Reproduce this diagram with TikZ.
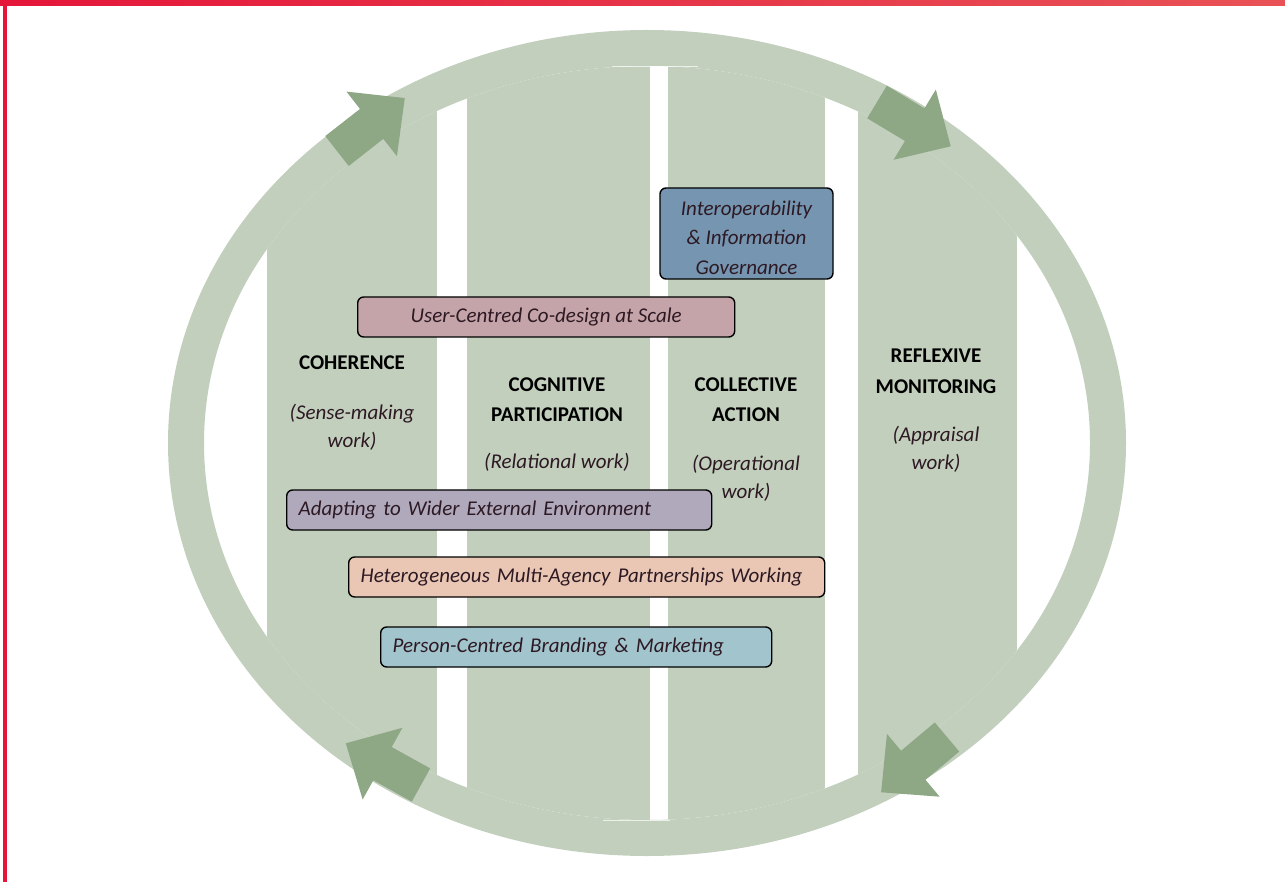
\documentclass[tikz,border=0pt]{standalone}
\usepackage{fontspec}
\setmainfont{Carlito}
\definecolor{ringgreen}{RGB}{194,207,189}
\definecolor{arrowgreen}{RGB}{142,168,134}
\definecolor{textdark}{RGB}{45,25,35}
\definecolor{mauve}{RGB}{196,164,168}
\definecolor{lavender}{RGB}{176,169,188}
\definecolor{peach}{RGB}{233,199,180}
\definecolor{paleblue}{RGB}{161,196,205}
\definecolor{steelblue}{RGB}{117,149,177}
\definecolor{redleft}{RGB}{228,22,58}
\definecolor{redright}{RGB}{232,82,86}
\begin{document}
\begin{tikzpicture}[x=1pt,y=-1pt,
    phase/.style={font=\fontsize{21}{30}\selectfont\bfseries, align=center, inner sep=0pt},
    work/.style={font=\fontsize{21}{28}\selectfont\itshape, text=textdark, align=center, inner sep=0pt},
    tagtext/.style={font=\fontsize{21}{29.5}\selectfont\itshape, text=textdark},
    tag/.style={draw=black, line width=1.4pt, rounded corners=6pt, minimum height=40pt,
      tagtext, inner xsep=12pt}]
    \useasboundingbox (0,0) rectangle (1285,882);
    \shade[left color=redleft, right color=redright] (0,0) rectangle (1285,6);
    \fill[redleft] (3,0) rectangle (7,882);

    \fill[ringgreen, even odd rule] (647,443) ellipse [x radius=479, y radius=413]
      (647,443) ellipse [x radius=443, y radius=377];
    \begin{scope}
      \clip (647,443) ellipse [x radius=443, y radius=377];
      \foreach \l/\r in {267/437, 467/650, 668/825, 858/1017}
        \fill[ringgreen] (\l,0) rectangle (\r,882);
    \end{scope}
    \draw[white, opacity=.7, line width=1] (612,67) -- (698,67);
    \draw[white, opacity=.7, line width=1] (603,820) -- (670,820);

    \foreach \x/\y/\a in {337/151/38, 877/102/-31, 947/737/220, 421/785/151}
      \fill[arrowgreen, shift={(\x,\y)}, rotate=\a]
        (0,-19) -- (44,-19) -- (44,-41) -- (86,0) -- (44,41) -- (44,19) -- (0,19) -- cycle;

    \node[phase, anchor=base] (coh) at (352,370) {COHERENCE};
    \node[work, anchor=base] (cohw) at (352,447) {(Sense-making\\work)};
    \node[phase, anchor=base] (cog) at (557,421) {COGNITIVE\\PARTICIPATION};
    \node[work, anchor=base] (cogw) at (557,468) {(Relational work)};
    \node[phase, anchor=base] (col) at (746,421) {COLLECTIVE\\ACTION};
    \node[work, anchor=base] (colw) at (746,498) {(Operational\\work)};
    \node[phase, anchor=base] (ref) at (936,393) {REFLEXIVE\\MONITORING};
    \node[work, anchor=base] (refw) at (936,469) {(Appraisal\\work)};

    \node[tag, fill=steelblue, minimum width=173pt, minimum height=91pt] (interop) at (746.5,233.5) {};
    \node[tagtext, align=center, inner sep=0pt] (interoptext) at ([yshift=-4pt]interop.center)
      {Interoperability\\\& Information\\Governance};
    \node[tag, fill=mauve, minimum width=377pt, anchor=west] (codesign) at (357,317)
      {User-Centred Co-design at Scale};
    \node[tag, fill=lavender, text width=401pt, align=left, anchor=west] (adapt) at (286,510)
      {Adapting to Wider External Environment};
    \node[tag, fill=peach, text width=452pt, align=left, anchor=west] (hetero) at (348,577)
      {Heterogeneous Multi-Agency Partnerships Working};
    \node[tag, fill=paleblue, text width=367pt, align=left, anchor=west] (brand) at (380,647)
      {Person-Centred Branding \& Marketing};
\end{tikzpicture}
\end{document}
